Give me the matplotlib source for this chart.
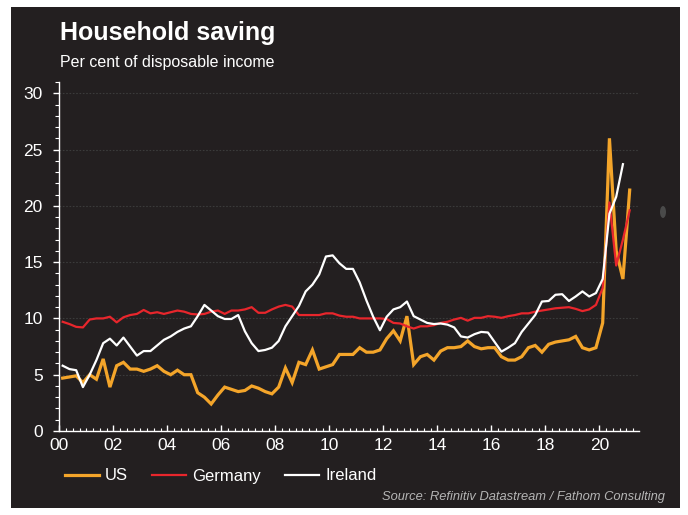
import numpy as np
import matplotlib
matplotlib.use('Agg')
import matplotlib.pyplot as plt
from matplotlib.patches import Rectangle, Ellipse
from matplotlib.ticker import MultipleLocator, FixedLocator

# Quarterly household saving ratios, 2000Q1 onwards (per cent of disposable income)
us = [4.7, 4.8, 4.9, 4.3, 5.0, 4.6, 6.4, 3.9, 5.8, 6.1,
      5.5, 5.5, 5.3, 5.5, 5.8, 5.3, 5.0, 5.4, 5.0, 5.0,
      3.4, 3.0, 2.4, 3.2, 3.9, 3.7, 3.5, 3.6, 4.0, 3.8,
      3.5, 3.3, 3.9, 5.6, 4.3, 6.1, 5.9, 7.2, 5.5, 5.7,
      5.9, 6.8, 6.8, 6.8, 7.4, 7.0, 7.0, 7.2, 8.2, 8.9,
      8.0, 10.2, 5.9, 6.6, 6.8, 6.3, 7.1, 7.4, 7.4, 7.5,
      8.0, 7.5, 7.3, 7.4, 7.4, 6.6, 6.3, 6.3, 6.6, 7.4,
      7.6, 7.0, 7.7, 7.9, 8.0, 8.1, 8.4, 7.4, 7.2, 7.4,
      9.6, 26.0, 16.0, 13.5, 21.4]
germany = [9.7, 9.5, 9.25, 9.2, 9.9, 10.0, 10.0, 10.15, 9.65, 10.1,
           10.3, 10.4, 10.75, 10.45, 10.55, 10.4, 10.55, 10.7, 10.6, 10.4,
           10.35, 10.4, 10.6, 10.7, 10.4, 10.7, 10.7, 10.8, 11.0, 10.5,
           10.5, 10.8, 11.05, 11.2, 11.05, 10.3, 10.3, 10.3, 10.3, 10.45,
           10.45, 10.25, 10.15, 10.15, 10.0, 10.0, 10.0, 10.0, 9.95, 9.6,
           9.55, 9.3, 9.1, 9.3, 9.3, 9.4, 9.6, 9.7, 9.9, 10.05,
           9.8, 10.05, 10.05, 10.2, 10.15, 10.05, 10.2, 10.3, 10.45, 10.45,
           10.6, 10.7, 10.8, 10.9, 10.95, 11.0, 10.85, 10.65, 10.8, 11.2,
           12.7, 20.3, 14.7, 17.0, 19.6]
ireland = [5.8, 5.5, 5.4, 3.9, 5.0, 6.3, 7.8, 8.2, 7.6, 8.3,
           7.5, 6.7, 7.1, 7.1, 7.6, 8.1, 8.4, 8.8, 9.1, 9.3,
           10.2, 11.2, 10.7, 10.2, 9.95, 9.95, 10.3, 8.85, 7.8, 7.1,
           7.2, 7.4, 8.0, 9.3, 10.2, 11.1, 12.4, 13.0, 13.9, 15.5,
           15.6, 14.9, 14.4, 14.4, 13.2, 11.6, 10.15, 8.95, 10.15, 10.8,
           11.0, 11.5, 10.2, 9.9, 9.6, 9.5, 9.55, 9.45, 9.2, 8.4,
           8.3, 8.6, 8.8, 8.75, 7.9, 7.05, 7.4, 7.8, 8.8, 9.55,
           10.3, 11.5, 11.55, 12.1, 12.15, 11.55, 11.95, 12.4, 11.95, 12.25,
           13.5, 19.3, 20.8, 23.7]

year_ticks = list(range(2000, 2021, 2))
year_labels = ['%02d' % (y % 100) for y in year_ticks]

# mid-quarter positions
def quarter_x(series):
    return 2000 + (np.arange(len(series)) + 0.5) / 4

bg = '#231f20'
plt.rcParams['font.family'] = ['Liberation Sans', 'DejaVu Sans']

fig = plt.figure(figsize=(6.88, 5.15), dpi=100, facecolor='white')
fig.patches.append(Rectangle((11 / 688, 7 / 515), 669 / 688, 501 / 515,
                             transform=fig.transFigure, facecolor=bg,
                             edgecolor='none', zorder=-10))
fig.patches.append(Ellipse((663 / 688, 1 - 212 / 515), 6 / 688, 12 / 515,
                           transform=fig.transFigure, facecolor='#4a4a4a',
                           edgecolor='none'))

ax = fig.add_axes([59.3 / 688, 84 / 515, 579.7 / 688, 349 / 515])
ax.set_facecolor('none')

ax.plot(quarter_x(us), us, color='#f4a52a', lw=2.3, label='US',
        solid_joinstyle='miter')
ax.plot(quarter_x(germany), germany, color='#e8262c', lw=1.6, label='Germany')
ax.plot(quarter_x(ireland), ireland, color='white', lw=1.6, label='Ireland')

ax.set_xlim(2000, 2021.47)
ax.set_ylim(0, 31)

for s in ['top', 'right']:
    ax.spines[s].set_visible(False)
for s in ['left', 'bottom']:
    ax.spines[s].set_color('white')
    ax.spines[s].set_linewidth(1.0)

ax.yaxis.set_major_locator(FixedLocator([0, 5, 10, 15, 20, 25, 30]))
ax.yaxis.set_minor_locator(MultipleLocator(1))
ax.xaxis.set_major_locator(FixedLocator(year_ticks))
ax.set_xticklabels(year_labels)
ax.xaxis.set_minor_locator(MultipleLocator(0.25))

ax.tick_params(axis='y', which='major', direction='out', length=4, width=1,
               colors='white', labelsize=12.5, pad=8)
ax.tick_params(axis='y', which='minor', direction='out', length=3, width=0.8,
               colors='white')
ax.tick_params(axis='x', which='major', direction='in', length=4, width=1,
               colors='white', labelsize=12.5, pad=5)
ax.tick_params(axis='x', which='minor', direction='in', length=2.5, width=0.8,
               colors='white')

for v in [5, 10, 15, 20, 25, 30]:
    ax.axhline(v, color='#3b3b3b', lw=0.8, ls=(0, (1.5, 1.5)), zorder=0)

fig.text(60 / 688, 1 - 33 / 515, 'Household saving', color='white',
         fontsize=18, fontweight='bold', va='center', ha='left')
fig.text(60 / 688, 1 - 62 / 515, 'Per cent of disposable income',
         color='white', fontsize=11.5, va='center', ha='left')

leg = fig.legend(loc='center left', bbox_to_anchor=(65 / 688, 1 - 476 / 515),
                 ncol=3, frameon=False, fontsize=12, handlelength=2.05,
                 handletextpad=0.35, columnspacing=1.45, borderpad=0,
                 borderaxespad=0)
for t in leg.get_texts():
    t.set_color('white')

fig.text(665 / 688, 1 - 497 / 515,
         'Source: Refinitiv Datastream / Fathom Consulting',
         color='#b5b5b5', fontsize=9.3, style='italic', ha='right', va='center')

fig.savefig('out.png', dpi=100, facecolor=fig.get_facecolor())
